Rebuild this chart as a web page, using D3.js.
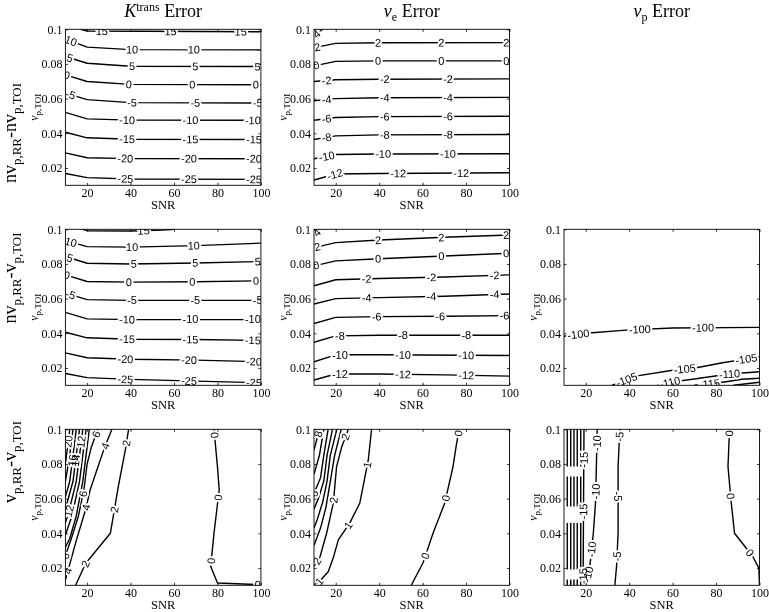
<!DOCTYPE html>
<html>
<head>
<meta charset="utf-8">
<script src="https://cdn.jsdelivr.net/npm/d3@7/dist/d3.min.js"></script>
<style>
  body { margin: 0; background: #fff; }
  svg { display: block; filter: grayscale(100%); }
  text { white-space: pre; }
</style>
</head>
<body>
<svg id="chart" width="769" height="612"></svg>
<script>
// ---------------- axis values ----------------
const snrDomain = [10, 100];
const vpDomain = [0.01, 0.1];
const snrTicks = [20, 40, 60, 80, 100];
const vpTicks = [0.02, 0.04, 0.06, 0.08, 0.1];
const vpTickLabels = ["0.02", "0.04", "0.06", "0.08", "0.1"];
const xAxisTitle = "SNR";

// ---------------- titles ----------------
const colTitles = [
  [{t: "K", it: true}, {t: "trans", sup: true}, {t: " Error"}],
  [{t: "v", it: true}, {t: "e", sub: true}, {t: " Error"}],
  [{t: "v", it: true}, {t: "p", sub: true}, {t: " Error"}]
];
const rowTitles = [
  [{t: "nv"}, {t: "p,RR", sub: true}, {t: "-nv"}, {t: "p,TOI", sub: true}],
  [{t: "nv"}, {t: "p,RR", sub: true}, {t: "-v"}, {t: "p,TOI", sub: true}],
  [{t: "v"}, {t: "p,RR", sub: true}, {t: "-v"}, {t: "p,TOI", sub: true}]
];
const yAxisTitle = [{t: "v", it: true}, {t: "p,TOI", sub: true}];

// ---------------- contour lines: [level, [[SNR, vp], ...]] ----------------
// Row 1 : nv_p,RR - nv_p,TOI
const ktransALines = [
  [15, [[17, 0.1], [20, 0.0990], [100, 0.0986]]],
  [10, [[10, 0.0945], [20, 0.0897], [40, 0.0883], [100, 0.0881]]],
  [5, [[10, 0.0843], [20, 0.0804], [40, 0.0787], [100, 0.0785]]],
  [0, [[10, 0.0737], [20, 0.0699], [40, 0.0682], [100, 0.0680]]],
  [-5, [[10, 0.0632], [20, 0.0594], [40, 0.0577], [100, 0.0575]]],
  [-10, [[10, 0.0521], [20, 0.0483], [40, 0.0476], [100, 0.0475]]],
  [-15, [[10, 0.0406], [20, 0.0374], [40, 0.0366], [100, 0.0364]]],
  [-20, [[10, 0.0287], [20, 0.0259], [40, 0.0254], [100, 0.0253]]],
  [-25, [[10, 0.0168], [20, 0.0144], [40, 0.0136], [100, 0.0134]]]
];
const ktransALabels = [[15, 26.8], [15, 58.4], [15, 90.7], [10, 12.5], [10, 40.7], [10, 69.1],
  [5, 12], [5, 40.7], [5, 69.8], [5, 98.5], [0, 10.6], [0, 39.2], [0, 68.4], [0, 97.7],
  [-5, 12.4], [-5, 40.7], [-5, 69.8], [-5, 98.5], [-10, 38.4], [-10, 67.6], [-10, 96.3],
  [-15, 38.4], [-15, 67.6], [-15, 96.8], [-20, 37.6], [-20, 66.9], [-20, 96.8],
  [-25, 37.6], [-25, 66.9], [-25, 96.8]];

const veALines = [
  [4, [[10, 0.0960], [14, 0.1]]],
  [2, [[10, 0.0894], [20, 0.0919], [40, 0.0922], [100, 0.0923]]],
  [0, [[10, 0.0789], [20, 0.0815], [40, 0.0818], [100, 0.0818]]],
  [-2, [[10, 0.0699], [20, 0.0709], [40, 0.0712], [100, 0.0714]]],
  [-4, [[10, 0.0588], [20, 0.0600], [40, 0.0605], [100, 0.0607]]],
  [-6, [[10, 0.0475], [20, 0.0491], [40, 0.0496], [100, 0.0498]]],
  [-8, [[10, 0.0364], [20, 0.0385], [40, 0.0391], [100, 0.0393]]],
  [-10, [[10, 0.0253], [20, 0.0278], [40, 0.0281], [100, 0.0282]]],
  [-12, [[10, 0.0130], [20, 0.0165], [40, 0.0168], [100, 0.0172]]]
];
const veALabels = [[4, 11.5, 0.097], [2, 11.5], [2, 39.5], [2, 68.6], [2, 98.5],
  [0, 11], [0, 39.5], [0, 68.6], [0, 98.5], [-2, 15.8], [-2, 42.6], [-2, 71.7],
  [-4, 15.8], [-4, 42.6], [-4, 71.7], [-6, 15.8], [-6, 42.6], [-6, 71.7],
  [-8, 15.8], [-8, 42.6], [-8, 71.7], [-10, 15.8], [-10, 41.8], [-10, 71.7],
  [-12, 19.6], [-12, 48.7], [-12, 77.8]];

// Row 2 : nv_p,RR - v_p,TOI
const ktransBLines = [
  [15, [[18, 0.1], [20, 0.0992], [40, 0.0990], [55, 0.0995], [60, 0.1]]],
  [10, [[10, 0.0935], [20, 0.0900], [40, 0.0897], [70, 0.0906], [100, 0.0920]]],
  [5, [[10, 0.0843], [20, 0.0804], [40, 0.0800], [70, 0.0806], [100, 0.0814]]],
  [0, [[10, 0.0737], [20, 0.0699], [40, 0.0695], [70, 0.0697], [100, 0.0703]]],
  [-5, [[10, 0.0632], [20, 0.0594], [40, 0.0590], [100, 0.0590]]],
  [-10, [[10, 0.0521], [20, 0.0483], [40, 0.0479], [100, 0.0479]]],
  [-15, [[10, 0.0406], [20, 0.0374], [40, 0.0366], [70, 0.0364], [100, 0.0359]]],
  [-20, [[10, 0.0287], [20, 0.0259], [40, 0.0250], [70, 0.0245], [100, 0.0236]]],
  [-25, [[10, 0.0168], [20, 0.0144], [40, 0.0134], [70, 0.0124], [100, 0.0115]]]
];
const ktransBLabels = [[15, 46], [10, 12.5], [10, 40.7], [10, 69.1],
  [5, 12], [5, 41.5], [5, 69.8], [5, 98.5], [0, 10.6], [0, 39.2], [0, 68.4], [0, 97.7],
  [-5, 12.4], [-5, 40.7], [-5, 69.8], [-5, 98.5], [-10, 38.4], [-10, 67.6], [-10, 96.3],
  [-15, 38.4], [-15, 67.6], [-15, 96.3], [-20, 37.6], [-20, 66.9], [-20, 96.8],
  [-25, 37.6], [-25, 66.9], [-25, 96.8]];

const veBLines = [
  [4, [[10, 0.0965], [13, 0.1]]],
  [2, [[10, 0.0894], [20, 0.0923], [40, 0.0938], [70, 0.0954], [100, 0.0967]]],
  [0, [[10, 0.0789], [20, 0.0818], [40, 0.0830], [70, 0.0846], [100, 0.0862]]],
  [-2, [[10, 0.0674], [20, 0.0709], [40, 0.0716], [70, 0.0725], [100, 0.0737]]],
  [-4, [[10, 0.0569], [20, 0.0600], [40, 0.0606], [70, 0.0614], [100, 0.0627]]],
  [-6, [[10, 0.0456], [20, 0.0492], [40, 0.0496], [70, 0.0498], [100, 0.0502]]],
  [-8, [[10, 0.0348], [20, 0.0385], [40, 0.0389], [100, 0.0389]]],
  [-10, [[10, 0.0236], [20, 0.0276], [40, 0.0276], [100, 0.0272]]],
  [-12, [[10, 0.0130], [20, 0.0165], [40, 0.0165], [70, 0.0160], [100, 0.0153]]]
];
const veBLabels = [[4, 11, 0.0985], [2, 11.5], [2, 39.5], [2, 68.6], [2, 98.5],
  [0, 11], [0, 39.5], [0, 68.6], [0, 98.5], [-2, 34.2], [-2, 64], [-2, 93.1],
  [-4, 34.2], [-4, 64], [-4, 93.1], [-6, 38.8], [-6, 68.1], [-6, 97.7],
  [-8, 21.9], [-8, 51], [-8, 80.1], [-10, 21.9], [-10, 51], [-10, 80.1],
  [-12, 21.9], [-12, 51], [-12, 80.1]];

const vpBLines = [
  [-100, [[10, 0.0383], [20, 0.0400], [40, 0.0420], [60, 0.0431], [100, 0.0434]]],
  [-105, [[32, 0.0100], [43, 0.0153], [60, 0.0187], [71, 0.0201], [83, 0.0230], [100, 0.0264]]],
  [-110, [[53, 0.0100], [60, 0.0120], [70, 0.0136], [86, 0.0165], [100, 0.0178]]],
  [-115, [[70, 0.0100], [80, 0.0112], [92, 0.0135], [100, 0.0141]]],
  [-120, [[88, 0.0100], [100, 0.0118]]]
];
const vpBLabels = [[-100, 16.6], [-100, 44.9], [-100, 74], [-105, 38.8], [-105, 65.6], [-105, 93.9],
  [-110, 58.7, 0.0118], [-110, 86.2], [-115, 77, 0.0107]];

// Row 3 : v_p,RR - v_p,TOI
const ktransCLines = [
  [0, [[78.4, 0.1], [80, 0.0785], [80.8, 0.0651], [78.4, 0.040], [76.9, 0.0209], [80, 0.0113], [100, 0.0104]]],
  [2, [[39.1, 0.1], [37.6, 0.0881], [34.5, 0.068], [30.7, 0.040], [19.3, 0.0226], [14.7, 0.0100]]],
  [4, [[31.4, 0.1], [27.6, 0.088], [21.4, 0.0651], [19.3, 0.0537], [14.7, 0.0345], [10, 0.013]]],
  [6, [[25, 0.1], [22, 0.09], [20, 0.08], [18.5, 0.065], [16, 0.05], [13, 0.038], [10, 0.027]]],
  [8, [[21, 0.1], [19.5, 0.085], [18, 0.07], [15, 0.05], [12, 0.037], [10, 0.032]]],
  [10, [[19.5, 0.1], [18, 0.085], [16.5, 0.07], [13, 0.05], [10, 0.039]]],
  [12, [[18, 0.1], [16.5, 0.085], [15, 0.07], [11.5, 0.052], [10, 0.046]]],
  [14, [[16.5, 0.1], [15, 0.085], [13.5, 0.07], [10, 0.054]]],
  [16, [[15, 0.1], [13.5, 0.085], [12, 0.07], [10, 0.061]]],
  [18, [[13.5, 0.1], [12, 0.085], [10, 0.07]]],
  [20, [[12, 0.1], [10.5, 0.085], [10, 0.079]]]
];
const ktransCLabels = [[0, 79.6, 0.0967], [0, 82.3, 0.0603], [0, 78.4, 0.0239], [0, 98.5, 0.0108],
  [2, 38.3, 0.092], [2, 32.9, 0.0536], [2, 19.8, 0.022], [4, 29.1, 0.090], [4, 17.5, 0.0555],
  [4, 12.9, 0.0176], [6, 24.5, 0.097], [6, 19, 0.0626], [6, 11.3, 0.0247], [12, 16.8, 0.0929],
  [20, 11.3, 0.093], [12, 11.3, 0.053], [16, 13.2, 0.082], [14, 14.8, 0.082]];

const veCLines = [
  [0, [[54.8, 0.0100], [60.2, 0.023], [64.8, 0.040], [70.2, 0.0575], [74, 0.0785], [75.5, 0.0907], [76.8, 0.1]]],
  [1, [[36.5, 0.1], [35, 0.0824], [31.1, 0.0575], [26.5, 0.046], [21.2, 0.0362], [18.9, 0.026], [16.6, 0.018], [12, 0.0115], [10, 0.0105]]],
  [2, [[25.8, 0.1], [22.7, 0.0896], [20.4, 0.0785], [18.9, 0.0575], [15.8, 0.040], [12.8, 0.0266], [10, 0.021]]],
  [3, [[22.5, 0.1], [19.5, 0.085], [17.5, 0.07], [15.5, 0.055], [13, 0.043], [10, 0.033]]],
  [4, [[20.5, 0.1], [17.5, 0.085], [16, 0.07], [14, 0.058], [11.5, 0.048], [10, 0.043]]],
  [5, [[18.5, 0.1], [16, 0.085], [14.5, 0.07], [12, 0.06], [10, 0.054]]],
  [6, [[16.5, 0.1], [14.5, 0.085], [13, 0.072], [10, 0.063]]],
  [7, [[14.5, 0.1], [12.5, 0.085], [10, 0.074]]],
  [8, [[12.5, 0.1], [10, 0.088]]]
];
const veCLabels = [[0, 76.3, 0.0977], [0, 67.1, 0.0613], [0, 61.7, 0.0268],
  [1, 34.5, 0.0795], [1, 24.2, 0.046], [1, 10.5, 0.0144],
  [2, 26.5, 0.0948], [2, 17.3, 0.0594], [2, 11.5, 0.0239], [8, 11.2, 0.0975], [6, 11.2, 0.0622]];

const vpCLines = [
  [0, [[86.2, 0.1], [85.5, 0.0785], [87, 0.0575], [88.5, 0.040], [96.9, 0.0266], [99.7, 0.0199], [100, 0.0100]]],
  [-5, [[35.7, 0.1], [34.9, 0.0785], [34.9, 0.0575], [34.9, 0.040], [34.2, 0.0209], [33.4, 0.0100]]],
  [-10, [[25.3, 0.1], [24.9, 0.0785], [24.5, 0.0575], [23.5, 0.040], [21.9, 0.0209], [20.4, 0.0130], [19.8, 0.0100]]],
  [-15, [[19.2, 0.1], [19, 0.0575], [18.8, 0.0100]]],
  [-20, [[17.7, 0.1], [17.7, 0.0785]]], [-20, [[17.7, 0.0728], [17.7, 0.0555]]],
  [-20, [[17.7, 0.046], [17.7, 0.0191]]], [-20, [[17.7, 0.0134], [17.7, 0.01]]],
  [-25, [[16.1, 0.1], [16.1, 0.0785]]], [-25, [[16.1, 0.0728], [16.1, 0.0555]]],
  [-25, [[16.1, 0.046], [16.1, 0.0191]]], [-25, [[16.1, 0.0134], [16.1, 0.01]]],
  [-30, [[14.6, 0.1], [14.6, 0.0785]]], [-30, [[14.6, 0.0728], [14.6, 0.0555]]],
  [-30, [[14.6, 0.046], [14.6, 0.0191]]], [-30, [[14.6, 0.0134], [14.6, 0.01]]],
  [-35, [[13.1, 0.1], [13.1, 0.0785]]], [-35, [[13.1, 0.0728], [13.1, 0.0555]]],
  [-35, [[13.1, 0.046], [13.1, 0.0191]]], [-35, [[13.1, 0.0134], [13.1, 0.01]]],
  [-40, [[11.5, 0.1], [11.5, 0.0785]]], [-40, [[11.5, 0.0728], [11.5, 0.0555]]],
  [-40, [[11.5, 0.046], [11.5, 0.0191]]], [-40, [[11.5, 0.0134], [11.5, 0.01]]]
];
const vpCLabels = [[0, 86.2, 0.0977], [0, 86.2, 0.0613], [0, 94.6, 0.0278],
  [-5, 34.9, 0.0958], [-5, 35.7, 0.0613], [-5, 35.7, 0.0266],
  [-10, 24.7, 0.092], [-10, 24.2, 0.0641], [-10, 23.5, 0.0306], [-10, 21.2, 0.0163],
  [-15, 18.9, 0.0824], [-15, 18.6, 0.0526], [-15, 18.2, 0.0153]];

// ---------------- panels ----------------
const panels = [
  {row: 0, col: 0, lines: ktransALines, labels: ktransALabels},
  {row: 0, col: 1, lines: veALines, labels: veALabels},
  {row: 1, col: 0, lines: ktransBLines, labels: ktransBLabels},
  {row: 1, col: 1, lines: veBLines, labels: veBLabels},
  {row: 1, col: 2, lines: vpBLines, labels: vpBLabels},
  {row: 2, col: 0, lines: ktransCLines, labels: ktransCLabels},
  {row: 2, col: 1, lines: veCLines, labels: veCLabels},
  {row: 2, col: 2, lines: vpCLines, labels: vpCLabels}
];

// ---------------- layout ----------------
const colLeft = [65.4, 314, 564], colW = 195.5;
const rowTop = [29.3, 229.3, 429.3], rowH = 156;
const serif = "'Liberation Serif', 'Times New Roman', serif";
const sans = "'Liberation Sans', Arial, Helvetica, sans-serif";

const svg = d3.select("#chart");
svg.append("rect").attr("width", 769).attr("height", 612).attr("fill", "#fff");

function rich(textSel, parts, size, subScale, subShift, supShift) {
  let cur = 0;
  parts.forEach(p => {
    const target = p.sub ? subShift : (p.sup ? -supShift : 0);
    const ts = textSel.append("tspan").text(p.t);
    if (target !== cur) ts.attr("dy", target - cur);
    cur = target;
    ts.attr("font-size", (p.sub || p.sup) ? size * subScale : size);
    if (p.it) ts.attr("font-style", "italic");
  });
}

function interpY(lines, level, snr) {
  for (const l of lines) {
    if (l[0] !== level) continue;
    const pts = l[1];
    for (let k = 0; k < pts.length - 1; k++) {
      const a = pts[k], b = pts[k + 1];
      const lo = Math.min(a[0], b[0]), hi = Math.max(a[0], b[0]);
      if (snr >= lo && snr <= hi && hi > lo) {
        const t = (snr - a[0]) / (b[0] - a[0]);
        return a[1] + t * (b[1] - a[1]);
      }
    }
  }
  return null;
}

function nearest(lines, level, px, py, x, y) {
  let best = null;
  lines.filter(l => l[0] === level).forEach(l => {
    const pts = l[1].map(d => [x(d[0]), y(d[1])]);
    for (let k = 0; k < pts.length - 1; k++) {
      const [ax, ay] = pts[k], [bx, by] = pts[k + 1];
      const dx = bx - ax, dy = by - ay, L2 = dx * dx + dy * dy;
      let t = L2 ? ((px - ax) * dx + (py - ay) * dy) / L2 : 0;
      t = Math.max(0, Math.min(1, t));
      const qx = ax + t * dx, qy = ay + t * dy;
      const dist = (qx - px) ** 2 + (qy - py) ** 2;
      if (!best || dist < best.dist) best = {qx, qy, dist, ang: Math.atan2(dy, dx) * 180 / Math.PI};
    }
  });
  return best;
}

// column titles
colTitles.forEach((parts, c) => {
  const t = svg.append("text")
    .attr("x", colLeft[c] + colW / 2).attr("y", 17)
    .attr("text-anchor", "middle").attr("font-family", serif).attr("fill", "#000");
  rich(t, parts, 18, 0.67, 4, 6);
});

// row titles
const rowTitleY = [133, 278, 462];
rowTitles.forEach((parts, r) => {
  const t = svg.append("text")
    .attr("transform", `translate(16,${rowTitleY[r]}) rotate(-90)`)
    .attr("text-anchor", "middle").attr("font-family", serif).attr("fill", "#000");
  rich(t, parts, 18, 0.72, 4.5, 0);
});

panels.forEach((p, i) => {
  const x0 = colLeft[p.col], y0 = rowTop[p.row];
  const x = d3.scaleLinear().domain(snrDomain).range([x0, x0 + colW]);
  const y = d3.scaleLinear().domain(vpDomain).range([y0 + rowH, y0]);

  const clipId = "clip" + i;
  svg.append("clipPath").attr("id", clipId).append("rect")
    .attr("x", x0).attr("y", y0).attr("width", colW).attr("height", rowH);
  const g = svg.append("g").attr("clip-path", `url(#${clipId})`);

  const line = d3.line().x(d => x(d[0])).y(d => y(d[1]));
  g.selectAll("path.contour").data(p.lines).join("path")
    .attr("class", "contour")
    .attr("d", d => line(d[1]))
    .attr("fill", "none").attr("stroke", "#000")
    .attr("stroke-width", 1.4).attr("stroke-linejoin", "round");

  const placed = [];
  p.labels.forEach(lab => {
    const level = lab[0], snr = lab[1];
    let vp = lab.length > 2 ? lab[2] : interpY(p.lines, level, snr);
    if (vp == null) return;
    const b = nearest(p.lines, level, x(snr), y(vp), x, y);
    if (!b) return;
    let ang = b.ang;
    while (ang > 90) ang -= 180;
    while (ang <= -90) ang += 180;
    placed.push({qx: b.qx, qy: b.qy, ang, text: String(level)});
  });
  const lg = g.append("g");
  lg.selectAll("text.halo").data(placed).join("text")
    .attr("class", "halo")
    .attr("transform", d => `translate(${d.qx},${d.qy}) rotate(${d.ang})`)
    .attr("text-anchor", "middle").attr("dy", "0.35em")
    .attr("font-family", sans).attr("font-size", 11)
    .attr("fill", "#fff").attr("stroke", "#fff").attr("stroke-width", 4)
    .attr("stroke-linejoin", "round")
    .text(d => d.text);
  lg.selectAll("text.clabel").data(placed).join("text")
    .attr("class", "clabel")
    .attr("transform", d => `translate(${d.qx},${d.qy}) rotate(${d.ang})`)
    .attr("text-anchor", "middle").attr("dy", "0.35em")
    .attr("font-family", sans).attr("font-size", 11)
    .attr("fill", "#000")
    .text(d => d.text);

  // axes
  const ax = svg.append("g").attr("transform", `translate(0,${y0 + rowH})`)
    .call(d3.axisBottom(x).tickValues(snrTicks).tickSizeInner(-2.5).tickSizeOuter(0).tickPadding(3));
  const ay = svg.append("g").attr("transform", `translate(${x0},0)`)
    .call(d3.axisLeft(y).tickValues(vpTicks).tickFormat((d, k) => vpTickLabels[k])
      .tickSizeInner(-2.5).tickSizeOuter(0).tickPadding(3));
  const axT = svg.append("g").attr("transform", `translate(0,${y0})`)
    .call(d3.axisTop(x).tickValues(snrTicks).tickFormat("").tickSizeInner(-2.5).tickSizeOuter(0));
  const ayR = svg.append("g").attr("transform", `translate(${x0 + colW},0)`)
    .call(d3.axisRight(y).tickValues(vpTicks).tickFormat("").tickSizeInner(-2.5).tickSizeOuter(0));
  [ax, ay, axT, ayR].forEach(a => {
    a.select(".domain").remove();
    a.selectAll(".tick line").attr("stroke", "#000").attr("stroke-width", 0.8);
    a.selectAll("text").attr("font-family", serif).attr("font-size", 12).attr("fill", "#000");
  });

  svg.append("rect").attr("x", x0).attr("y", y0).attr("width", colW).attr("height", rowH)
    .attr("fill", "none").attr("stroke", "#000").attr("stroke-width", 0.9);

  // axis titles
  svg.append("text").attr("x", x0 + colW / 2).attr("y", y0 + rowH + 23.5)
    .attr("text-anchor", "middle").attr("font-family", serif).attr("font-size", 12.5)
    .attr("fill", "#000").text(xAxisTitle);
  const yt = svg.append("text")
    .attr("transform", `translate(${x0 - 27.5},${y0 + rowH / 2}) rotate(-90)`)
    .attr("text-anchor", "middle").attr("font-family", serif).attr("fill", "#000");
  rich(yt, yAxisTitle, 12, 0.75, 3, 0);
});
</script>
</body>
</html>
